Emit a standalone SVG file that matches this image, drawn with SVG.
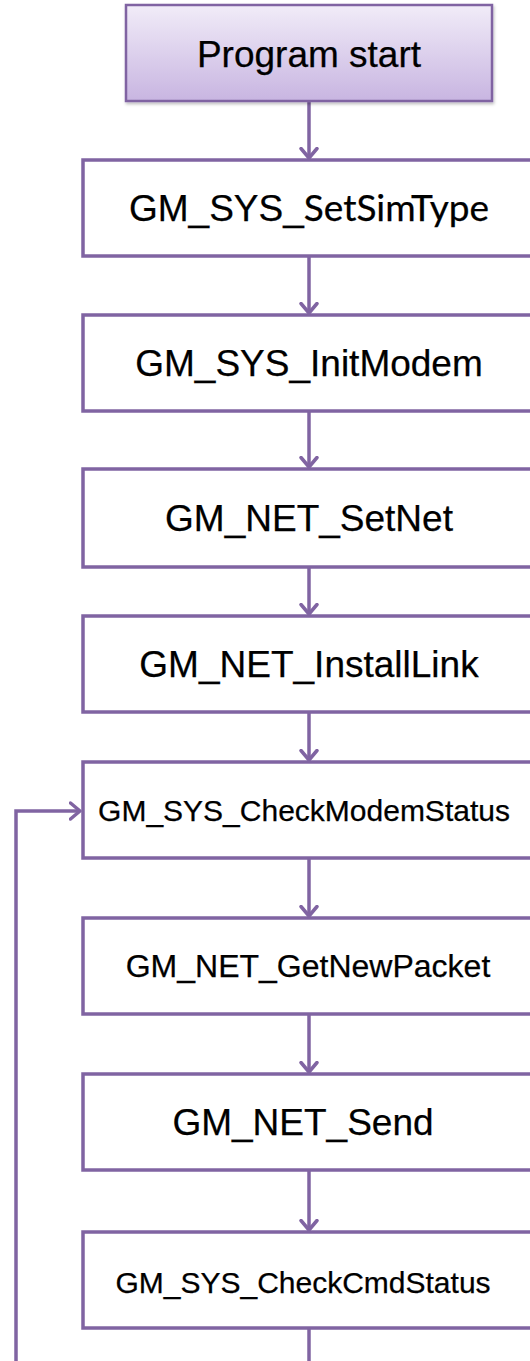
<svg xmlns="http://www.w3.org/2000/svg" width="530" height="1361" viewBox="0 0 530 1361">
  <defs>
    <linearGradient id="startGrad" x1="0" y1="0" x2="0" y2="1">
      <stop offset="0" stop-color="#f1ecf8"/>
      <stop offset="1" stop-color="#c8b5e1"/>
    </linearGradient>
    <marker id="arrow" markerWidth="14" markerHeight="20" refX="11.5" refY="10" orient="auto" markerUnits="userSpaceOnUse" viewBox="0 0 14 20">
      <path d="M2,2 L11.5,10 L2,18" fill="none" stroke="#8064a2" stroke-width="3.5" stroke-linecap="round" stroke-linejoin="round"/>
    </marker>
    <filter id="shadow" x="-5%" y="-10%" width="110%" height="125%">
      <feDropShadow dx="1" dy="2" stdDeviation="1.5" flood-color="#000" flood-opacity="0.25"/>
    </filter>
  </defs>
  <style>
    .box { fill: #ffffff; stroke: #8064a2; stroke-width: 3.5; }
    .start { fill: url(#startGrad); stroke: #8064a2; stroke-width: 2.5; }
    .lbl { fill: #000000; text-anchor: middle; stroke: #000000; stroke-width: 0.25; }
    .big { font-size: 37px; }
    .mid { font-size: 32px; }
    .small { font-size: 30px; }
    .conn { fill: none; stroke: #8064a2; stroke-width: 3.5; marker-end: url(#arrow); }
    .plain { fill: none; stroke: #8064a2; stroke-width: 3.5; }
  </style>
  <rect x="0" y="0" width="530" height="1361" fill="#ffffff"/>

  <g id="connectors">
    <line class="conn" x1="309" y1="101" x2="309" y2="158"/>
    <line class="conn" x1="309" y1="256" x2="309" y2="313"/>
    <line class="conn" x1="309" y1="411" x2="309" y2="467"/>
    <line class="conn" x1="309" y1="567" x2="309" y2="614"/>
    <line class="conn" x1="309" y1="712" x2="309" y2="760"/>
    <line class="conn" x1="309" y1="858" x2="309" y2="916"/>
    <line class="conn" x1="309" y1="1014" x2="309" y2="1072"/>
    <line class="conn" x1="309" y1="1170" x2="309" y2="1230"/>
    <line class="plain" x1="309" y1="1328" x2="309" y2="1361"/>
    <polyline class="conn" points="16,1361 16,811 80,811"/>
  </g>

  <g id="node-start">
    <rect class="start" x="126" y="5" width="366" height="96" filter="url(#shadow)"/>
    <text class="lbl big" font-family="'Liberation Sans', Arial, sans-serif" x="309" y="67">Program start</text>
  </g>
  <g id="node-setsimtype">
    <rect class="box" x="83" y="160" width="455" height="96"/>
    <text class="lbl big" font-family="'Liberation Sans', Arial, sans-serif" x="309" y="221">GM_SYS_<tspan font-family="Lato, 'Open Sans', sans-serif">SetSimType</tspan></text>
  </g>
  <g id="node-initmodem">
    <rect class="box" x="83" y="315" width="455" height="96"/>
    <text class="lbl big" font-family="'Liberation Sans', Arial, sans-serif" x="309" y="376">GM_SYS_InitModem</text>
  </g>
  <g id="node-setnet">
    <rect class="box" x="83" y="469" width="455" height="98"/>
    <text class="lbl big" font-family="'Liberation Sans', Arial, sans-serif" x="309" y="531">GM_NET_SetNet</text>
  </g>
  <g id="node-installlink">
    <rect class="box" x="83" y="616" width="455" height="96"/>
    <text class="lbl big" font-family="'Liberation Sans', Arial, sans-serif" x="309" y="677">GM_NET_InstallLink</text>
  </g>
  <g id="node-checkmodemstatus">
    <rect class="box" x="83" y="762" width="455" height="96"/>
    <text class="lbl small" font-family="'Liberation Sans', Arial, sans-serif" x="304" y="821">GM_SYS_CheckModemStatus</text>
  </g>
  <g id="node-getnewpacket">
    <rect class="box" x="83" y="918" width="455" height="96"/>
    <text class="lbl mid" font-family="'Liberation Sans', Arial, sans-serif" x="308" y="977">GM_NET_GetNewPacket</text>
  </g>
  <g id="node-send">
    <rect class="box" x="83" y="1074" width="455" height="96"/>
    <text class="lbl big" font-family="'Liberation Sans', Arial, sans-serif" x="303" y="1135">GM_NET_Send</text>
  </g>
  <g id="node-checkcmdstatus">
    <rect class="box" x="83" y="1232" width="455" height="96"/>
    <text class="lbl small" font-family="'Liberation Sans', Arial, sans-serif" x="303" y="1293">GM_SYS_CheckCmdStatus</text>
  </g>
</svg>
